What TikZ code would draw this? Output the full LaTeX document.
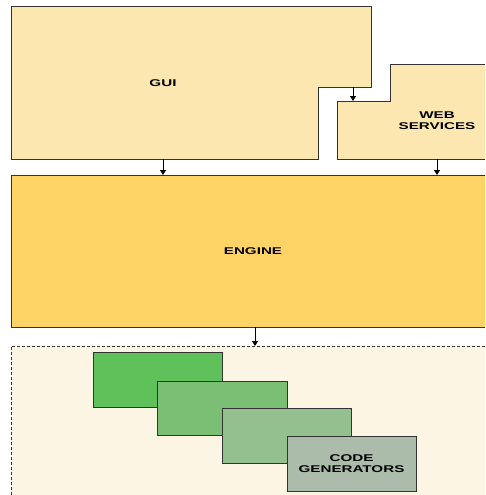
\documentclass[tikz,border=0pt]{standalone}
\usepackage{fontspec}
\newfontfamily\lbl[FakeStretch=1.55]{Liberation Sans}
\usetikzlibrary{arrows.meta}
\definecolor{guifill}{HTML}{FDE7B0}
\definecolor{engfill}{HTML}{FFD466}
\definecolor{contfill}{HTML}{FDF5E3}
\definecolor{gA}{HTML}{5FC15A}
\definecolor{gB}{HTML}{7BBF74}
\definecolor{gC}{HTML}{94BF8E}
\definecolor{gD}{HTML}{ABBDAA}
\definecolor{edge}{HTML}{333333}
\tikzset{
  blk/.style={draw=edge, line width=1pt},
  lab/.style={font=\lbl\bfseries\fontsize{9.8}{11}\selectfont, align=center, text=black, inner sep=0pt},
  conn/.style={draw=black, line width=0.8pt, -{Triangle[length=5pt,width=6pt]}},
}
\begin{document}
\begin{tikzpicture}[x=1pt,y=-1pt]
\useasboundingbox (0,0) rectangle (485,495);
\clip (0,0) rectangle (485,495);
% GUI
\draw[blk, fill=guifill] (11,7) -- (371,7) -- (371,87) -- (318,87) -- (318,159) -- (11,159) -- cycle;
\node[lab] (gui) at (163,83) {GUI};
% Web services
\draw[blk, fill=guifill] (390,65) -- (500,65) -- (500,159) -- (337,159) -- (337,101) -- (390,101) -- cycle;
\node[lab] (ws) at (437,121) {WEB\\SERVICES};
% Engine
\draw[blk, fill=engfill] (11,175) rectangle (500,327);
\node[lab] (eng) at (253,251) {ENGINE};
% Container
\fill[contfill] (11,346) rectangle (500,510);
\draw[edge, line width=0.8pt, dash pattern=on 3pt off 2pt] (500,346) -- (11,346) -- (11,510);
% Green boxes
\node[blk, fill=gA, minimum width=129pt, minimum height=55pt, inner sep=0pt] (g1) at (157.5,379.5) {};
\node[blk, fill=gB, minimum width=130pt, minimum height=54pt, inner sep=0pt] (g2) at (222,408) {};
\node[blk, fill=gC, minimum width=129pt, minimum height=55pt, inner sep=0pt] (g3) at (286.5,435.5) {};
\node[blk, fill=gD, minimum width=129pt, minimum height=55pt, inner sep=0pt] (g4) at (351.5,463.5) {};
\node[lab] (cg) at (351.5,463.5) {CODE\\GENERATORS};
% Connectors
\coordinate (a1s) at (163,159); \coordinate (a1e) at (163,175);
\coordinate (a2s) at (353,87);  \coordinate (a2e) at (353,101);
\coordinate (a3s) at (437,159); \coordinate (a3e) at (437,175);
\coordinate (a4s) at (255,327); \coordinate (a4e) at (255,346);
\draw[conn] (a1s) -- (a1e);
\draw[conn] (a2s) -- (a2e);
\draw[conn] (a3s) -- (a3e);
\draw[conn] (a4s) -- (a4e);
\end{tikzpicture}
\end{document}
